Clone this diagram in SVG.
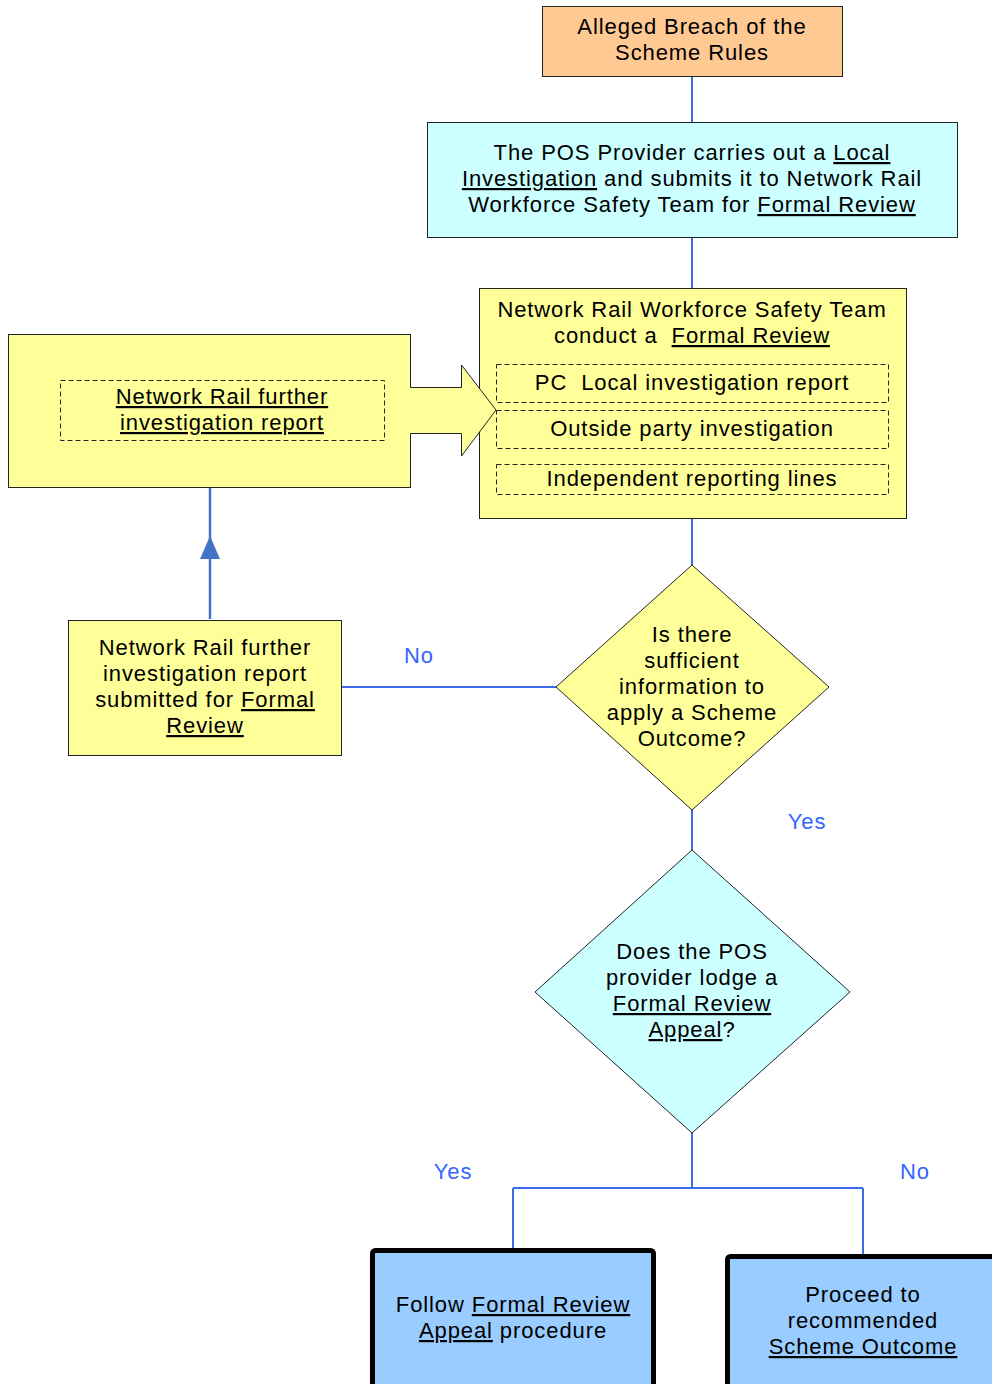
<svg xmlns="http://www.w3.org/2000/svg" width="992" height="1384" viewBox="0 0 992 1384">
<style>
text{font-family:"Liberation Sans",Arial,sans-serif;font-size:22px;fill:#000;text-anchor:middle;letter-spacing:0.9px}
.u{text-decoration:underline}
.lbl{fill:#3366FF;font-size:22px}
.box{stroke:#222;stroke-width:1}
.y{fill:#FFFF99}
.c{fill:#CCFFFF}
.dash{fill:none;stroke:#222;stroke-width:1;stroke-dasharray:5,3}
.big{fill:#99CCFF;stroke:#000;stroke-width:5}
.con{fill:none;stroke:#3D6BEB;stroke-width:2}
</style>
<rect width="992" height="1384" fill="#fff"/>
<g id="connectors">
<path class="con" d="M692,76V122M692,237V288M692,518V565M692,810V850M692,1133V1188M513,1188H863M513,1188V1249M863,1188V1255M342,687H556"/>
<path d="M210,488V619" fill="none" stroke="#4472C4" stroke-width="2.5"/>
<polygon points="210,536 220,559 200,559" fill="#4472C4"/>
<text class="lbl" x="419" y="663">No</text>
<text class="lbl" x="807" y="829">Yes</text>
<text class="lbl" x="453" y="1179">Yes</text>
<text class="lbl" x="915" y="1179">No</text>
</g>
<g id="n1">
<rect x="542.5" y="6.5" width="300" height="70" fill="#FFC993" class="box"/>
<text x="692" y="34">Alleged Breach of the</text>
<text x="692" y="60">Scheme Rules</text>
</g>
<g id="n2">
<rect x="427.5" y="122.5" width="530" height="115" class="box c"/>
<text x="692" y="160">The POS Provider carries out a <tspan class="u">Local</tspan></text>
<text x="692" y="186"><tspan class="u">Investigation</tspan> and submits it to Network Rail</text>
<text x="692" y="212">Workforce Safety Team for <tspan class="u">Formal Review</tspan></text>
</g>
<g id="n3">
<rect x="479.5" y="288.5" width="427" height="230" class="box y"/>
<text x="692" y="317">Network Rail Workforce Safety Team</text>
<text x="692" y="343">conduct a&#160; <tspan class="u">Formal Review</tspan></text>
<rect x="496.5" y="364.5" width="392" height="38" class="dash"/>
<text x="692" y="390">PC&#160; Local investigation report</text>
<rect x="496.5" y="410.5" width="392" height="38" class="dash"/>
<text x="692" y="436">Outside party investigation</text>
<rect x="496.5" y="464.5" width="392" height="30" class="dash"/>
<text x="692" y="486">Independent reporting lines</text>
</g>
<g id="n4">
<rect x="8.5" y="334.5" width="402" height="153" class="box y"/>
<polygon points="408,387.5 461.5,387.5 461.5,365 496,410 461.5,456 461.5,433.5 408,433.5" fill="#FFFF99"/>
<path d="M410.5,387.5H461.5V365L496,410L461.5,456V433.5H410.5" fill="none" stroke="#222" stroke-width="1"/>
<rect x="60.5" y="380.5" width="324" height="60" class="dash"/>
<text x="222" y="404" class="u">Network Rail further</text>
<text x="222" y="430" class="u">investigation report</text>
</g>
<g id="n5">
<rect x="68.5" y="620.5" width="273" height="135" class="box y"/>
<text x="205" y="655">Network Rail further</text>
<text x="205" y="681">investigation report</text>
<text x="205" y="707">submitted for <tspan class="u">Formal</tspan></text>
<text x="205" y="733" class="u">Review</text>
</g>
<g id="n6">
<polygon points="692,565 829,687 692,810 556,687" class="box y"/>
<text x="692" y="642">Is there</text>
<text x="692" y="668">sufficient</text>
<text x="692" y="694">information to</text>
<text x="692" y="720">apply a Scheme</text>
<text x="692" y="746">Outcome?</text>
</g>
<g id="n7">
<polygon points="692,850 850,992 692,1133 535,992" class="box c"/>
<text x="692" y="959">Does the POS</text>
<text x="692" y="985">provider lodge a</text>
<text x="692" y="1011" class="u">Formal Review</text>
<text x="692" y="1037"><tspan class="u">Appeal</tspan>?</text>
</g>
<g id="n8">
<rect x="372.5" y="1250.5" width="281" height="145" rx="3" class="big"/>
<text x="513" y="1312">Follow <tspan class="u">Formal Review</tspan></text>
<text x="513" y="1338"><tspan class="u">Appeal</tspan> procedure</text>
</g>
<g id="n9">
<rect x="727.5" y="1256.5" width="280" height="140" rx="3" class="big"/>
<text x="863" y="1302">Proceed to</text>
<text x="863" y="1328">recommended</text>
<text x="863" y="1354" class="u">Scheme Outcome</text>
</g>
</svg>
